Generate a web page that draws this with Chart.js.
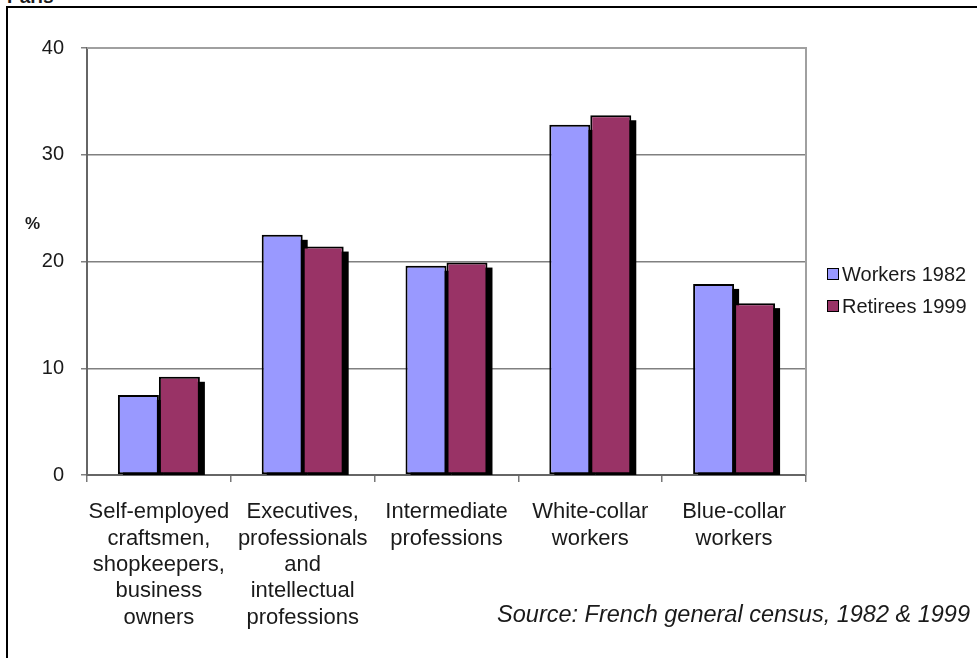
<!DOCTYPE html>
<html>
<head>
<meta charset="utf-8">
<script src="https://cdn.jsdelivr.net/npm/chart.js@4"></script>
<style>
  body { margin: 0; background: #fff; overflow: hidden; }
  #wrap { position: relative; width: 977px; height: 658px; font-family: 'Liberation Sans', Arial, sans-serif; color: #1a1a1a; }
  #frame { position: absolute; left: 6px; top: 6px; width: 1000px; height: 700px; border: 2px solid #000; }
  #chart { position: absolute; left: 0; top: 0; }
  .txt { position: absolute; white-space: nowrap; }
  #legend .item { position: absolute; left: 827px; height: 20px; font-size: 20px; line-height: 20px; }
  #legend .box { display: inline-block; width: 10px; height: 10px; border: 1.5px solid #000; margin-right: 3px; vertical-align: 1px; }
</style>
</head>
<body>
<div id="wrap">
  <div class="txt" style="left:7px; top:-13px; font-size:19px; line-height:19px; font-weight:bold;">Paris</div>
  <div id="frame"></div>
  <canvas id="chart" width="977" height="658"></canvas>
  <div class="txt" style="left:25px; top:214px; font-size:17px; font-weight:bold;">%</div>
  <div id="legend"></div>
  <div class="txt" style="right:7px; top:601px; font-size:23.5px; font-style:italic;">Source: French general census, 1982 &amp; 1999</div>
</div>
<script>
// Occupational categories of Paris workers (1982) and retirees (1999), in %.
const categories = [
  ["Self-employed", "craftsmen,", "shopkeepers,", "business", "owners"],
  ["Executives,", "professionals", "and", "intellectual", "professions"],
  ["Intermediate", "professions"],
  ["White-collar", "workers"],
  ["Blue-collar", "workers"]
];
const seriesNames = ["Workers 1982", "Retirees 1999"];
const workers1982 = [7.5, 22.5, 19.6, 32.8, 17.9];
const retirees1999 = [9.2, 21.4, 19.9, 33.7, 16.1];
const yTicks = [0, 10, 20, 30, 40];

const colors = ["#9999ff", "#993366"];
const font = "'Liberation Sans', Arial, sans-serif";

// Black drop shadow behind each bar, Excel style.
const barShadow = {
  id: 'barShadow',
  beforeDatasetsDraw(chart) {
    const { ctx, chartArea } = chart;
    ctx.save();
    ctx.beginPath();
    ctx.rect(chartArea.left, chartArea.top, chartArea.width, chartArea.height);
    ctx.clip();
    ctx.fillStyle = '#000';
    chart.data.datasets.forEach((ds, i) => {
      chart.getDatasetMeta(i).data.forEach((bar) => {
        const { x, y, base, width } = bar.getProps(['x', 'y', 'base', 'width'], true);
        ctx.fillRect(x - width / 2 + 5, y + 5, width, base - y);
      });
    });
    ctx.restore();
  }
};

// Grey box around the plot area (top and right sides).
const plotBorder = {
  id: 'plotBorder',
  beforeDatasetsDraw(chart) {
    const { ctx, chartArea } = chart;
    ctx.save();
    ctx.strokeStyle = '#a0a0a0';
    ctx.lineWidth = 2;
    ctx.beginPath();
    ctx.moveTo(chartArea.left, chartArea.top);
    ctx.lineTo(chartArea.right, chartArea.top);
    ctx.lineTo(chartArea.right, chartArea.bottom);
    ctx.stroke();
    ctx.restore();
  }
};

const ctx = document.getElementById('chart');
const chart = new Chart(ctx, {
  type: 'bar',
  data: {
    labels: categories,
    datasets: [
      { label: seriesNames[0], data: workers1982, backgroundColor: colors[0] },
      { label: seriesNames[1], data: retirees1999, backgroundColor: colors[1] }
    ]
  },
  options: {
    responsive: false,
    animation: false,
    devicePixelRatio: 1,
    categoryPercentage: 0.57,
    barPercentage: 1.0,
    layout: { padding: { top: 48, right: 171, bottom: 0, left: 20 } },
    elements: {
      bar: { borderColor: '#000', borderWidth: 2, borderSkipped: false }
    },
    plugins: {
      legend: { display: false },
      tooltip: { enabled: false }
    },
    scales: {
      x: {
        offset: true,
        grid: { offset: true, drawOnChartArea: false, drawTicks: true, tickLength: 7, color: '#777', lineWidth: 1.5 },
        border: { color: '#666', width: 2 },
        ticks: { color: '#1a1a1a', font: { family: font, size: 22, lineHeight: 1.2 }, padding: 17, maxRotation: 0, autoSkip: false },
        afterFit: (scale) => { scale.height = 183; }
      },
      y: {
        min: 0,
        max: 40,
        afterBuildTicks: (scale) => { scale.ticks = yTicks.map((v) => ({ value: v })); },
        grid: { color: '#808080', lineWidth: 1.5, tickLength: 6 },
        border: { color: '#666', width: 2 },
        ticks: { color: '#1a1a1a', font: { family: font, size: 20 }, padding: 17 },
        afterFit: (scale) => { scale.width = 67; }
      }
    }
  },
  plugins: [plotBorder, barShadow]
});

// Legend built from the dataset names and colours.
const legend = document.getElementById('legend');
seriesNames.forEach((name, i) => {
  const item = document.createElement('div');
  item.className = 'item';
  item.style.top = (264 + i * 32) + 'px';
  item.innerHTML = '<span class="box" style="background:' + colors[i] + '"></span>' + name;
  legend.appendChild(item);
});
</script>
</body>
</html>
